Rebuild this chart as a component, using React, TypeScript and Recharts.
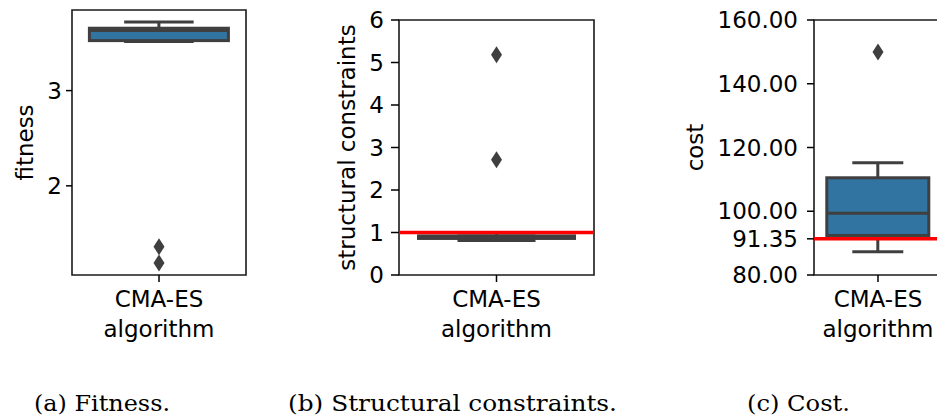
import React from "react";
import {
  ComposedChart,
  Bar,
  Scatter,
  XAxis,
  YAxis,
  ReferenceLine,
  ReferenceArea,
} from "recharts";

// ---- data -------------------------------------------------------------
const algorithms = ["CMA-ES"];

// five-number summaries: [lower whisker, Q1, median, Q3, upper whisker]
const fitnessBox = [3.515, 3.525, 3.63, 3.655, 3.72];
const fitnessOutliers = [1.36, 1.19];
const fitnessTicks = [2, 3];

const constraintBox = [0.81, 0.86, 0.89, 0.92, 0.99];
const constraintOutliers = [5.18, 2.71];
const constraintTicks = [0, 1, 2, 3, 4, 5, 6];
const constraintLimit = 1;

const costBox = [87.3, 92.4, 99.4, 110.5, 115.2];
const costOutliers = [150];
const costTicks = [80, 91.35, 100, 120, 140, 160];
const costLimit = 91.35;

const captions = ["(a) Fitness.", "(b) Structural constraints.", "(c) Cost."];

// ---- styling ----------------------------------------------------------
const FONT = "'DejaVu Sans', sans-serif";
const SERIF = "'DejaVu Serif', serif";
const GRAY = "#3f3f3f";
const BLUE = "#3274a1";

function buildRows(box: number[], outliers: number[]) {
  const row: Record<string, any> = {
    name: algorithms[0],
    range: [box[0], box[4]],
    stats: box,
  };
  outliers.forEach((v, i) => {
    row[`out${i}`] = v;
  });
  return [row];
}

// Box-and-whisker glyph drawn inside the bar slot spanning the whisker range
const BoxShape = (props: any) => {
  const { x, y, width, height } = props;
  const entry = props.payload ?? props;
  const [lo, q1, med, q3, hi] = entry.stats as number[];
  const top = Math.min(y, y + height);
  const bottom = Math.max(y, y + height);
  const toPx = (v: number) =>
    hi === lo ? top : top + ((hi - v) / (hi - lo)) * (bottom - top);
  const cx = x + width / 2;
  const capHalf = width / 4;
  const lw = 3;
  return (
    <g>
      <line x1={cx} x2={cx} y1={toPx(hi)} y2={toPx(q3)} stroke={GRAY} strokeWidth={lw} />
      <line x1={cx} x2={cx} y1={toPx(q1)} y2={toPx(lo)} stroke={GRAY} strokeWidth={lw} />
      <line x1={cx - capHalf} x2={cx + capHalf} y1={toPx(hi)} y2={toPx(hi)} stroke={GRAY} strokeWidth={lw} />
      <line x1={cx - capHalf} x2={cx + capHalf} y1={toPx(lo)} y2={toPx(lo)} stroke={GRAY} strokeWidth={lw} />
      <rect
        x={x}
        y={toPx(q3)}
        width={width}
        height={Math.max(0, toPx(q1) - toPx(q3))}
        fill={BLUE}
        stroke={GRAY}
        strokeWidth={lw}
      />
      <line x1={x} x2={x + width} y1={toPx(med)} y2={toPx(med)} stroke={GRAY} strokeWidth={lw} />
    </g>
  );
};

const Diamond = (props: any) => {
  const { cx, cy } = props;
  if (cx == null || cy == null || isNaN(cy)) return null;
  const w = 5.5;
  const h = 8.5;
  return (
    <path
      d={`M${cx},${cy - h}L${cx + w},${cy}L${cx},${cy + h}L${cx - w},${cy}Z`}
      fill={GRAY}
    />
  );
};

const YLabel = (props: any) => {
  const { viewBox, text, baseX } = props;
  const cy = viewBox ? viewBox.y + viewBox.height / 2 : 0;
  return (
    <text
      x={baseX}
      y={cy}
      transform={`rotate(-90, ${baseX}, ${cy})`}
      textAnchor="middle"
      fontFamily={FONT}
      fontSize={23}
      fill="#000"
    >
      {text}
    </text>
  );
};

const XLabel = (props: any) => {
  const { viewBox } = props;
  if (!viewBox) return null;
  return (
    <text
      x={viewBox.x + viewBox.width / 2}
      y={viewBox.y + 62}
      textAnchor="middle"
      fontFamily={FONT}
      fontSize={23}
      fill="#000"
    >
      algorithm
    </text>
  );
};

type PanelProps = {
  left: number;
  width: number;
  top: number;
  yAxisWidth: number;
  rightMargin: number;
  box: number[];
  outliers: number[];
  domain: [number, number];
  ticks: number[];
  decimals?: number;
  yLabel: string;
  yLabelX: number;
  limit?: number;
  tickSize: number;
  tickMargin: number;
};

function BoxPanel(p: PanelProps) {
  const rows = buildRows(p.box, p.outliers);
  const fmt = (v: number) =>
    p.decimals != null ? v.toFixed(p.decimals) : String(v);
  return (
    <div style={{ position: "absolute", left: p.left, top: 0 }}>
      <ComposedChart
        width={p.width}
        height={350}
        data={rows}
        margin={{ top: p.top, right: p.rightMargin, bottom: 5, left: 0 }}
        barCategoryGap="10%"
      >
        <XAxis
          dataKey="name"
          type="category"
          height={70}
          axisLine={false}
          tickSize={7}
          tickMargin={9}
          tickLine={{ stroke: "#000", strokeWidth: 1.5 }}
          tick={{ fill: "#000", fontSize: 23, fontFamily: FONT }}
          label={<XLabel />}
        />
        <YAxis
          type="number"
          width={p.yAxisWidth}
          domain={p.domain}
          ticks={p.ticks}
          interval={0}
          allowDataOverflow
          axisLine={false}
          tickSize={p.tickSize}
          tickMargin={p.tickMargin}
          tickLine={{ stroke: "#000", strokeWidth: 1.5 }}
          tick={{ fill: "#000", fontSize: 23, fontFamily: FONT }}
          tickFormatter={fmt}
          label={<YLabel text={p.yLabel} baseX={p.yLabelX} />}
        />
        <ReferenceArea
          y1={p.domain[0]}
          y2={p.domain[1]}
          fill="none"
          stroke="#1a1a1a"
          strokeWidth={1.6}
          ifOverflow="visible"
        />
        <Bar dataKey="range" shape={<BoxShape />} isAnimationActive={false} />
        {p.outliers.map((_, i) => (
          <Scatter
            key={i}
            dataKey={`out${i}`}
            shape={<Diamond />}
            isAnimationActive={false}
          />
        ))}
        {p.limit != null && (
          <ReferenceLine y={p.limit} stroke="#ff0000" strokeWidth={3.5} />
        )}
      </ComposedChart>
    </div>
  );
}

export default function App() {
  return (
    <div
      style={{
        position: "absolute",
        left: 0,
        top: 0,
        width: 937,
        height: 419,
        overflow: "hidden",
        background: "#fff",
      }}
    >
      <BoxPanel
        left={0}
        width={260}
        top={10}
        yAxisWidth={72}
        rightMargin={14}
        box={fitnessBox}
        outliers={fitnessOutliers}
        domain={[1.0635, 3.8465]}
        ticks={fitnessTicks}
        yLabel="fitness"
        yLabelX={33}
        tickSize={6}
        tickMargin={4}
      />
      <BoxPanel
        left={300}
        width={310}
        top={20}
        yAxisWidth={99}
        rightMargin={16}
        box={constraintBox}
        outliers={constraintOutliers}
        domain={[0, 6]}
        ticks={constraintTicks}
        yLabel="structural constraints"
        yLabelX={55}
        limit={constraintLimit}
        tickSize={8}
        tickMargin={7}
      />
      <BoxPanel
        left={660}
        width={300}
        top={20}
        yAxisWidth={154}
        rightMargin={18}
        box={costBox}
        outliers={costOutliers}
        domain={[80, 160]}
        ticks={costTicks}
        decimals={2}
        yLabel="cost"
        yLabelX={43}
        limit={costLimit}
        tickSize={7}
        tickMargin={9}
      />
      <svg
        width={937}
        height={419}
        style={{ position: "absolute", left: 0, top: 0, pointerEvents: "none" }}
      >
        <text x={34} y={411} fontFamily={SERIF} fontSize={21.5} fill="#000" textLength={136} lengthAdjust="spacingAndGlyphs">
          {captions[0]}
        </text>
        <text x={288} y={411} fontFamily={SERIF} fontSize={21.5} fill="#000" textLength={329} lengthAdjust="spacingAndGlyphs">
          {captions[1]}
        </text>
        <text x={747} y={411} fontFamily={SERIF} fontSize={21.5} fill="#000" textLength={103} lengthAdjust="spacingAndGlyphs">
          {captions[2]}
        </text>
      </svg>
    </div>
  );
}
